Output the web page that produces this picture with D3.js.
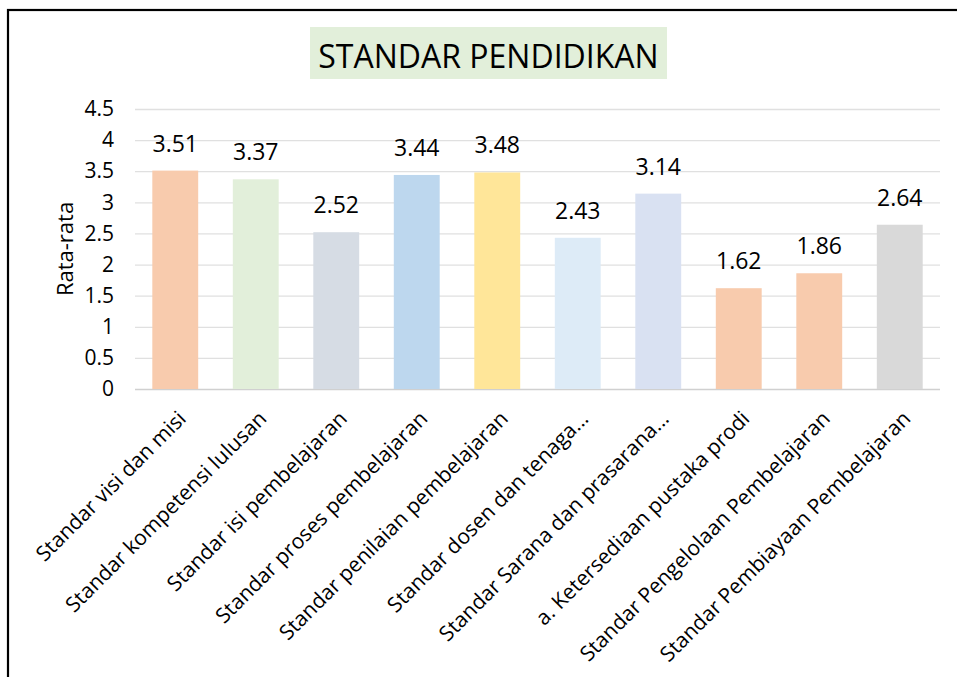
<!DOCTYPE html>
<html>
<head>
<meta charset="utf-8">
<script src="https://cdn.jsdelivr.net/npm/d3@7"></script>
<style>
  body { margin: 0; background: #fff; }
  text { fill: #000; }
</style>
</head>
<body>
<div id="viz"></div>
<script>
const width = 957;
const height = 677;
const marginLeft = 135;
const marginRight = 17;
const marginTop = 109;
const marginBottom = 288;

const categories = [
  'Standar visi dan misi',
  'Standar kompetensi lulusan',
  'Standar isi pembelajaran',
  'Standar proses pembelajaran',
  'Standar penilaian pembelajaran',
  'Standar dosen dan tenaga...',
  'Standar Sarana dan prasarana...',
  'a. Ketersediaan pustaka prodi',
  'Standar Pengelolaan Pembelajaran',
  'Standar Pembiayaan Pembelajaran',
];
const values = [3.51, 3.37, 2.52, 3.44, 3.48, 2.43, 3.14, 1.62, 1.86, 2.64];
const barColors = ['#F8CBAD', '#E2EFDA', '#D6DCE4', '#BDD7EE', '#FFE699',
  '#DDEBF7', '#D9E1F2', '#F8CBAD', '#F8CBAD', '#D9D9D9'];
const yTicks = [0, 0.5, 1, 1.5, 2, 2.5, 3, 3.5, 4, 4.5];

const font = "'Open Sans', sans-serif";

const svg = d3.select('#viz')
  .append('svg')
  .attr('width', width)
  .attr('height', height);

// outer frame
svg.append('rect')
  .attr('x', 8).attr('y', 10)
  .attr('width', width).attr('height', height)
  .attr('fill', 'none')
  .attr('stroke', '#000')
  .attr('stroke-width', 2.2);

const xScale = d3.scaleBand()
  .domain(categories)
  .range([marginLeft, width - marginRight])
  .paddingInner(0.43)
  .paddingOuter(0.215);

const yScale = d3.scaleLinear()
  .domain([0, 4.5])
  .range([height - marginBottom, marginTop]);

// title
const titleG = svg.append('g');
titleG.append('rect')
  .attr('x', 310).attr('y', 27)
  .attr('width', 357).attr('height', 52)
  .attr('fill', '#E2EFDA');
titleG.append('text')
  .attr('x', 488.5).attr('y', 68)
  .attr('text-anchor', 'middle')
  .style('font-family', font)
  .style('font-size', '32px')
  .text('STANDAR PENDIDIKAN');

// gridlines
svg.append('g')
  .selectAll('line')
  .data(yTicks)
  .join('line')
  .attr('x1', marginLeft)
  .attr('x2', width - marginRight)
  .attr('y1', (d) => yScale(d) + 0.5)
  .attr('y2', (d) => yScale(d) + 0.5)
  .attr('stroke', (d) => (d === 0 ? '#d0d0d0' : '#e0e0e0'))
  .attr('stroke-width', 1.3);

// y axis
const yAxis = d3.axisLeft(yScale)
  .tickValues(yTicks)
  .tickSize(0)
  .tickPadding(21)
  .tickFormat((d) => String(d));

svg.append('g')
  .attr('transform', `translate(${marginLeft}, 0)`)
  .call(yAxis)
  .call((g) => g.select('.domain').remove())
  .call((g) => g.attr('font-size', null).attr('font-family', null))
  .selectAll('text')
  .style('font-family', font)
  .style('font-size', '21px')
  .attr('fill', '#000');

svg.append('text')
  .attr('transform', `translate(73, ${yScale(2.25)}) rotate(-90)`)
  .attr('text-anchor', 'middle')
  .style('font-family', font)
  .style('font-size', '22px')
  .text('Rata-rata');

// bars
svg.append('g')
  .selectAll('rect')
  .data(values)
  .join('rect')
  .attr('x', (d, i) => xScale(categories[i]))
  .attr('width', xScale.bandwidth())
  .attr('y', (d) => yScale(d))
  .attr('height', (d) => yScale(0) - yScale(d))
  .attr('fill', (d, i) => barColors[i]);

// data labels
svg.append('g')
  .selectAll('text')
  .data(values)
  .join('text')
  .attr('x', (d, i) => xScale(categories[i]) + xScale.bandwidth() / 2)
  .attr('y', (d) => yScale(d) - 19)
  .attr('text-anchor', 'middle')
  .style('font-family', font)
  .style('font-size', '23px')
  .text((d) => d.toFixed(2));

// x axis labels
const xAxis = d3.axisBottom(xScale).tickSize(0).tickPadding(0);
svg.append('g')
  .attr('transform', `translate(0, ${yScale(0)})`)
  .call(xAxis)
  .call((g) => g.select('.domain').remove())
  .call((g) => g.attr('font-size', null).attr('font-family', null))
  .selectAll('text')
  .style('font-family', font)
  .style('font-size', '21px')
  .attr('fill', '#000')
  .attr('text-anchor', 'end')
  .attr('y', 0)
  .attr('dy', 0)
  .attr('transform', 'translate(12, 31) rotate(-45)');
</script>
</body>
</html>
